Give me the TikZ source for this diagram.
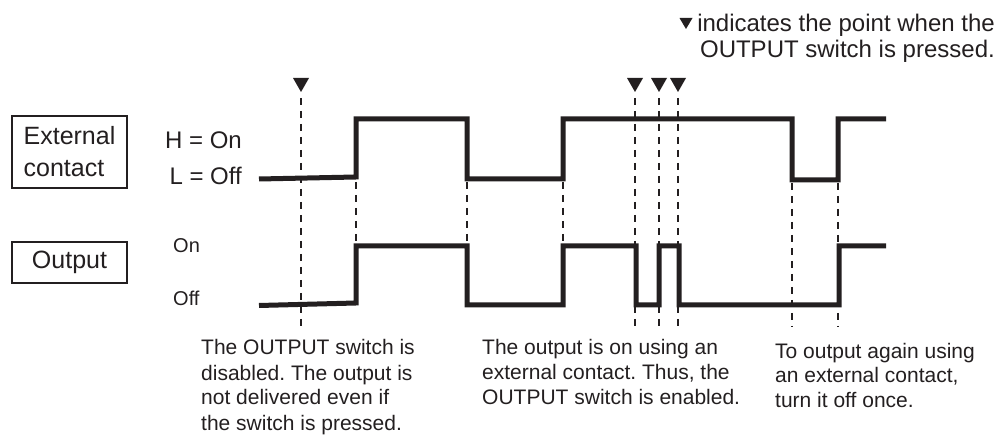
\documentclass[tikz,border=0pt]{standalone}
\usepackage{fontspec}
\setmainfont{Liberation Sans}
\frenchspacing
\definecolor{ink}{HTML}{231F20}
\begin{document}
\begin{tikzpicture}[x=1pt,y=-1pt,
  sig/.style={line width=5pt, line join=miter, ink},
  dashln/.style={line width=1.4pt, ink, dash pattern=on 7pt off 6pt},
  tri/.style={fill=ink},
  boxlbl/.style={draw=ink, line width=1.6pt, text=ink, font=\fontsize{25}{32}\selectfont, align=left, inner sep=0pt, minimum width=115pt},
  lvl/.style={text=ink, inner sep=0pt, font=\fontsize{24}{26}\selectfont},
  lvls/.style={text=ink, inner sep=0pt, font=\fontsize{20}{22}\selectfont},
  note/.style={text=ink, inner sep=0pt, align=left, anchor=base west, font=\fontsize{21}{25}\selectfont}
]
\useasboundingbox (0,0) rectangle (996,435);

% legend (base anchor = last line baseline)
\node[lvl, align=right, anchor=base east] (legend) at (995,57.5) {indicates the point when the\\OUTPUT switch is pressed.};
\coordinate (legtri) at (686,29);
\fill[tri] (legtri) -- ++(-6.5,-11) -- ++(13,0) -- cycle;

% row labels
\node[boxlbl, minimum height=72pt] (extbox) at (69.5,152) {External\\contact};
\node[boxlbl, minimum height=41pt] (outbox) at (69.5,262.5) {Output};
\node[lvl, anchor=base east] (hon) at (242,149) {H = On};
\node[lvl, anchor=base east] (loff) at (242,185) {L = Off};
\node[lvls, anchor=base west] (on) at (173,253) {On};
\node[lvls, anchor=base west] (off) at (173,306) {Off};

% signals
\draw[sig] (259,179) -- (356,177) -- (356,119) -- (467,119) -- (467,179) -- (563,179) -- (563,119) -- (792,119) -- (792,180) -- (838,180) -- (838,119) -- (886,119);
\draw[sig] (259,305.5) -- (356,303) -- (356,246) -- (467,246) -- (467,305) -- (563,305) -- (563,246) -- (636,246) -- (636,305) -- (659,305) -- (659,246) -- (679,246) -- (679,305) -- (839,305) -- (839,246) -- (886,246);

% switch-press markers
\foreach \n/\x in {p1/301, p2/635, p3/659, p4/678}{
  \coordinate (\n t) at (\x,92);
  \coordinate (\n b) at (\x,328);
  \fill[tri] (\n t) -- ++(-8,-14) -- ++(16,0) -- cycle;
  \draw[dashln] (\n t) ++(0,6) -- (\n b);
}

% transition guides
\foreach \n/\x in {a/356, b/467, c/563}{
  \coordinate (\n t) at (\x,182);
  \coordinate (\n b) at (\x,244);
  \draw[dashln] (\n t) -- (\n b);
}
\foreach \n/\x in {d/792, e/838}{
  \coordinate (\n t) at (\x,183);
  \coordinate (\n b) at (\x,327);
  \draw[dashln] (\n t) -- (\n b);
}

% notes (base anchor = last line baseline)
\node[note] (n1) at (201,430) {The OUTPUT switch is\\disabled. The output is\\not delivered even if\\the switch is pressed.};
\node[note] (n2) at (482,405) {The output is on using an\\external contact. Thus, the\\OUTPUT switch is enabled.};
\node[note] (n3) at (775,408) {To output again using\\an external contact,\\turn it off once.};
\end{tikzpicture}
\end{document}
